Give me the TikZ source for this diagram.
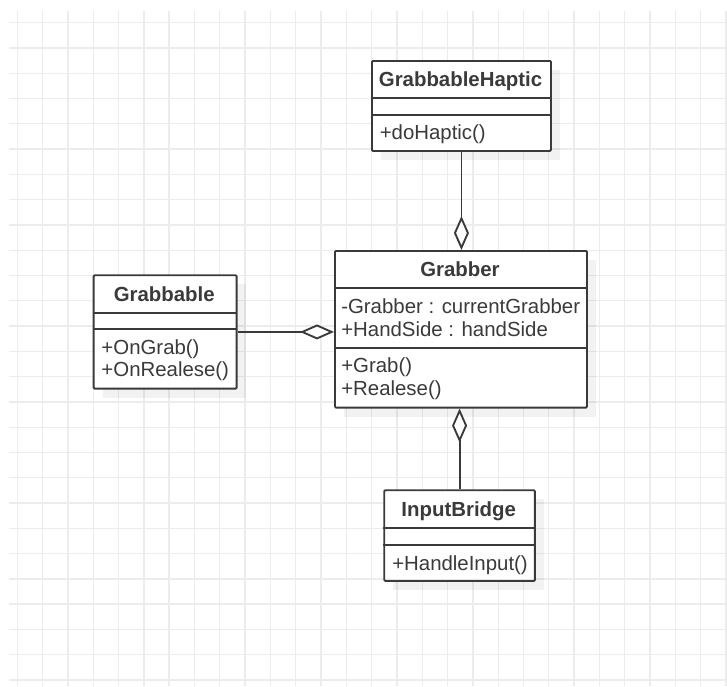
\documentclass[tikz,border=0pt]{standalone}
\usepackage{fontspec}
\setmainfont{Liberation Sans}
\usetikzlibrary{arrows.meta}
\definecolor{ink}{RGB}{58,58,58}
\definecolor{gridline}{RGB}{236,236,236}
\begin{document}
\begin{tikzpicture}[x=0.75pt,y=-0.75pt,
  font=\fontsize{15.3pt}{17pt}\selectfont,
  classbox/.style={draw=ink, line width=1.4pt, fill=white, rounded corners=0.8pt,
                   inner sep=0pt, anchor=north west},
  compartment/.style={draw=ink, line width=1.4pt},
  classtitle/.style={font=\fontsize{15.3pt}{17pt}\selectfont\bfseries, text=ink,
                     anchor=base, inner sep=0pt},
  memberline/.style={text=ink, anchor=base west, inner sep=0pt},
  dropshadow/.style={fill=black, opacity=0.05},
  gridrule/.style={draw=gridline, line width=1pt},
  aggr/.style={draw=ink, line width=1.4pt,
               -{Diamond[fill=white, length=25.5pt, width=11.25pt]}},
]
\useasboundingbox (0,0) rectangle (727,686);

% background grid
\foreach \k in {0,...,28}
  \draw[gridrule] ({17.3+25.31*\k},11) -- ({17.3+25.31*\k},686);
\foreach \k in {0,...,26}
  \draw[gridrule] (9,{22.7+25.28*\k}) -- (727,{22.7+25.28*\k});

% drop shadows
\fill[dropshadow] (381,70) rectangle (560,160);
\fill[dropshadow] (344,260) rectangle (596,416.7);
\fill[dropshadow] (102.7,284.3) rectangle (245.7,397.7);
\fill[dropshadow] (393.3,499.3) rectangle (544,590);

% GrabbableHaptic
\node[classbox, minimum width=134.25pt, minimum height=67.5pt] (gh) at (371,60) {};
\draw[compartment] (371,98.3) -- (550,98.3);
\draw[compartment] (371,115) -- (550,115);
\node[classtitle] (gh-name) at (460.5,86.8) {GrabbableHaptic};
\node[memberline] (gh-op1) at (379.5,139.3) {+doHaptic()};

% Grabber
\node[classbox, minimum width=189pt, minimum height=117.5pt] (grabber) at (334,250) {};
\draw[compartment] (334,288.3) -- (586,288.3);
\draw[compartment] (334,348.3) -- (586,348.3);
\node[classtitle] (grabber-name) at (460,276.5) {Grabber};
\node[memberline] (grabber-at1) at (341,313.5) {-Grabber : currentGrabber};
\node[memberline] (grabber-at2) at (341,336) {+HandSide : handSide};
\node[memberline] (grabber-op1) at (341,372.7) {+Grab()};
\node[memberline] (grabber-op2) at (341,395) {+Realese()};

% Grabbable
\node[classbox, minimum width=107.25pt, minimum height=85.05pt] (grabbable) at (92.7,274.3) {};
\draw[compartment] (92.7,313.3) -- (235.7,313.3);
\draw[compartment] (92.7,329.3) -- (235.7,329.3);
\node[classtitle] (grabbable-name) at (164.2,301.7) {Grabbable};
\node[memberline] (grabbable-op1) at (101.2,354.3) {+OnGrab()};
\node[memberline] (grabbable-op2) at (101.2,376.7) {+OnRealese()};

% InputBridge
\node[classbox, minimum width=113pt, minimum height=68pt] (ib) at (383.3,489.3) {};
\draw[compartment] (383.3,528.3) -- (534,528.3);
\draw[compartment] (383.3,545) -- (534,545);
\node[classtitle] (ib-name) at (458.7,516.7) {InputBridge};
\node[memberline] (ib-op1) at (392,570) {+HandleInput()};

% aggregations towards Grabber
\draw[aggr] (gh.south) -- (gh.south |- grabber.north);
\draw[aggr] (grabbable.east) -- (grabbable.east -| grabber.west);
\draw[aggr] (ib.north) -- (ib.north |- grabber.south);
\end{tikzpicture}
\end{document}
